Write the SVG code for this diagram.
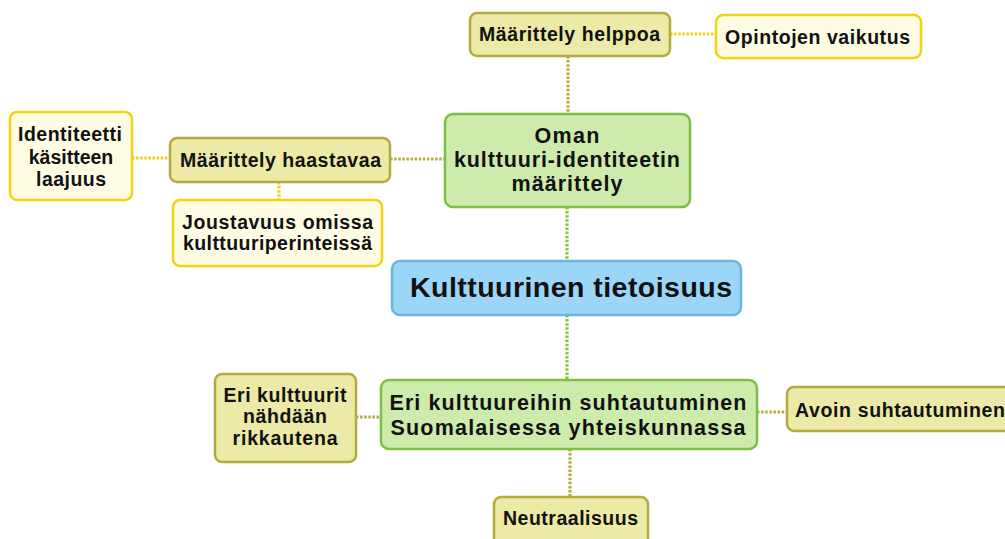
<svg xmlns="http://www.w3.org/2000/svg" width="1005" height="539" viewBox="0 0 1005 539">
  <style>
    text { font-family: "Liberation Sans", Arial, sans-serif; font-weight: bold; fill: #111; text-anchor: middle; }
    .root rect { fill: #9bd5f8; stroke: #6cb6d6; stroke-width: 2.5; }
    .main rect { fill: #cdebab; stroke: #7dbf45; stroke-width: 2.5; }
    .sub rect { fill: #ede9a7; stroke: #b3ab3c; stroke-width: 2.5; }
    .leaf rect { fill: #fffce4; stroke: #f0d40c; stroke-width: 2.5; }
    .root text { font-size: 28.5px; }
    .main text { font-size: 21.5px; }
    .sub text, .leaf text { font-size: 19.5px; }
    .c { fill: none; stroke-width: 3.2; stroke-dasharray: 2.5 1.6; }
    .cg { stroke: #8cc43c; }
    .co { stroke: #b6ac42; }
    .cy { stroke: #ecd21a; }
  </style>
  <rect width="1005" height="539" fill="#ffffff"/>

  <!-- connectors -->
  <g id="connectors">
    <line class="c cg" x1="567" y1="207" x2="567" y2="261"/>
    <line class="c cg" x1="567" y1="315" x2="567" y2="380"/>
    <line class="c co" x1="568" y1="56" x2="568" y2="114"/>
    <line class="c co" x1="390" y1="159" x2="445" y2="159"/>
    <line class="c co" x1="570" y1="449" x2="570" y2="497"/>
    <line class="c co" x1="356" y1="417" x2="381" y2="417"/>
    <line class="c co" x1="757" y1="412" x2="787" y2="412"/>
    <line class="c cy" x1="670" y1="34" x2="716" y2="34"/>
    <line class="c cy" x1="132" y1="158" x2="170" y2="158"/>
    <line class="c cy" x1="279" y1="182" x2="279" y2="200"/>
  </g>

  <!-- central topic -->
  <g id="kulttuurinen-tietoisuus" class="root">
    <rect x="392" y="261" width="349" height="54" rx="8"/>
    <text x="571" y="297" textLength="322" lengthAdjust="spacing">Kulttuurinen tietoisuus</text>
  </g>

  <!-- main branches -->
  <g id="oman-identiteetti" class="main">
    <rect x="445" y="114" width="245" height="93" rx="8"/>
    <text x="567" y="143" textLength="65" lengthAdjust="spacing">Oman</text>
    <text x="567" y="167" textLength="226" lengthAdjust="spacing">kulttuuri-identiteetin</text>
    <text x="567" y="191" textLength="111" lengthAdjust="spacing">määrittely</text>
  </g>
  <g id="eri-kulttuureihin" class="main">
    <rect x="381" y="380" width="376" height="69" rx="8"/>
    <text x="568" y="410" textLength="357" lengthAdjust="spacing">Eri kulttuureihin suhtautuminen</text>
    <text x="568" y="435" textLength="355" lengthAdjust="spacing">Suomalaisessa yhteiskunnassa</text>
  </g>

  <!-- sub topics -->
  <g id="maarittely-helppoa" class="sub">
    <rect x="470" y="13" width="200" height="43" rx="7"/>
    <text x="569.5" y="41" textLength="181" lengthAdjust="spacing">Määrittely helppoa</text>
  </g>
  <g id="maarittely-haastavaa" class="sub">
    <rect x="170" y="138" width="220" height="44" rx="7"/>
    <text x="280.5" y="167" textLength="201" lengthAdjust="spacing">Määrittely haastavaa</text>
  </g>
  <g id="eri-kulttuurit-rikkautena" class="sub">
    <rect x="215" y="374" width="141" height="88" rx="7"/>
    <text x="285" y="402" textLength="123" lengthAdjust="spacing">Eri kulttuurit</text>
    <text x="285" y="423" textLength="84" lengthAdjust="spacing">nähdään</text>
    <text x="285" y="445" textLength="105" lengthAdjust="spacing">rikkautena</text>
  </g>
  <g id="avoin-suhtautuminen" class="sub">
    <rect x="787" y="387" width="232" height="44" rx="7"/>
    <text x="900" y="417" textLength="210" lengthAdjust="spacing">Avoin suhtautuminen</text>
  </g>
  <g id="neutraalisuus" class="sub">
    <rect x="494" y="497" width="154" height="52" rx="7"/>
    <text x="570.5" y="525" textLength="135" lengthAdjust="spacing">Neutraalisuus</text>
  </g>

  <!-- leaves -->
  <g id="opintojen-vaikutus" class="leaf">
    <rect x="716" y="15" width="205" height="43" rx="7"/>
    <text x="817.5" y="44" textLength="185" lengthAdjust="spacing">Opintojen vaikutus</text>
  </g>
  <g id="identiteetti-kasitteen-laajuus" class="leaf">
    <rect x="10" y="112" width="122" height="88" rx="7"/>
    <text x="70" y="141" textLength="104" lengthAdjust="spacing">Identiteetti</text>
    <text x="71" y="164">käsitteen</text>
    <text x="71" y="186" textLength="70" lengthAdjust="spacing">laajuus</text>
  </g>
  <g id="joustavuus" class="leaf">
    <rect x="173" y="200" width="209" height="66" rx="7"/>
    <text x="277.5" y="229" textLength="191" lengthAdjust="spacing">Joustavuus omissa</text>
    <text x="277.5" y="250" textLength="189" lengthAdjust="spacing">kulttuuriperinteissä</text>
  </g>
</svg>
